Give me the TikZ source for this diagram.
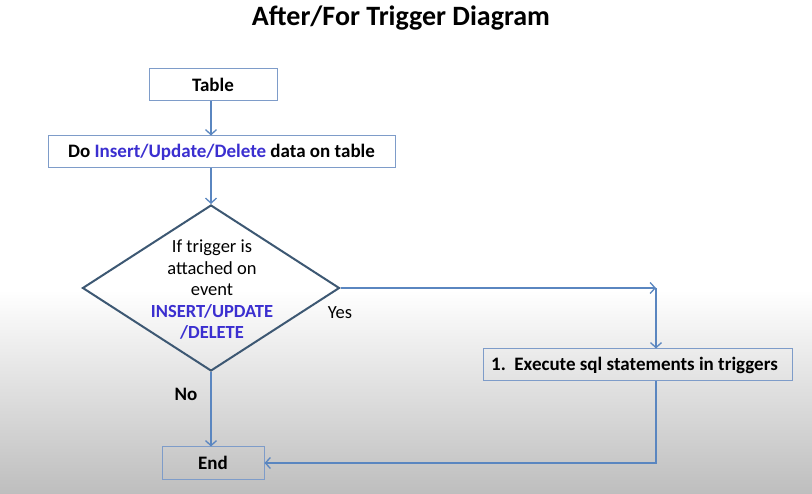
\documentclass[tikz,border=0pt]{standalone}
\usepackage{fontspec}
\setmainfont{Carlito}
\usetikzlibrary{arrows.meta,shapes.geometric}
\definecolor{boxline}{HTML}{7E9CC9}
\definecolor{arrowline}{HTML}{5A86C0}
\definecolor{diamline}{HTML}{3D5873}
\definecolor{kwblue}{HTML}{3B2FD0}
\definecolor{bgbottom}{HTML}{BEBEBE}
\tikzset{
  x=1pt, y=-1pt,
  txt/.style={font=\fontsize{18.5}{22}\selectfont},
  bf/.style={font=\fontsize{19}{22}\selectfont\bfseries},
  stepbox/.style={draw=boxline, line width=1pt, inner sep=0pt, bf},
  arr/.style={draw=arrowline, line width=1.6pt, -{Straight Barb[length=5pt,width=11pt,line width=1.3pt]}},
  lbl/.style={txt, inner sep=0pt},
}
\begin{document}
\begin{tikzpicture}
\useasboundingbox (0,0) rectangle (812,494);
\fill[white] (0,0) rectangle (812,494);
\shade[top color=white, bottom color=bgbottom] (0,290) rectangle (812,494);

\node[font=\fontsize{28}{32}\selectfont\bfseries, inner sep=0pt] (title) at (401,18) {After/For Trigger Diagram};

\node[stepbox, minimum width=128pt, minimum height=32pt] (table) at (213,85) {Table};
\node[stepbox, minimum width=347pt, minimum height=32pt] (do) at (221.5,152) {Do \textcolor{kwblue}{Insert/Update/Delete} data on table};

\node[diamond, draw=diamline, line width=2pt, minimum width=257pt, minimum height=166pt, inner sep=0pt] (dia) at (211,288) {};
\node[lbl, align=center, font=\fontsize{18.5}{21.5}\selectfont] (diatext) at (212,290) {If trigger is\\attached on\\event\\{\color{kwblue}\bfseries INSERT/UPDATE}\\{\color{kwblue}\bfseries /DELETE}};

\node[stepbox, minimum width=309pt, minimum height=32pt] (exec) at (637.5,365) {\hspace*{-6pt}1.\ \ Execute sql statements in triggers};
\node[stepbox, minimum width=102pt, minimum height=32pt] (end) at (213,463) {End};

\coordinate (yc) at (656,288);

\draw[arr] (table.south -| dia.north) -- (do.north -| dia.north);
\draw[arr] (do.south -| dia.north) -- (dia.north);
\draw[arr] (dia.east) -- (yc);
\draw[arr] (yc) -- (exec.north -| yc);
\draw[arr] (dia.south) -- (end.north -| dia.south);
\draw[arr] (exec.south -| yc) -- (yc |- end.east) -- (end.east);

\node[lbl] (yes) at (340,313) {Yes};
\node[lbl, bf] (no) at (186,394) {No};
\end{tikzpicture}
\end{document}
